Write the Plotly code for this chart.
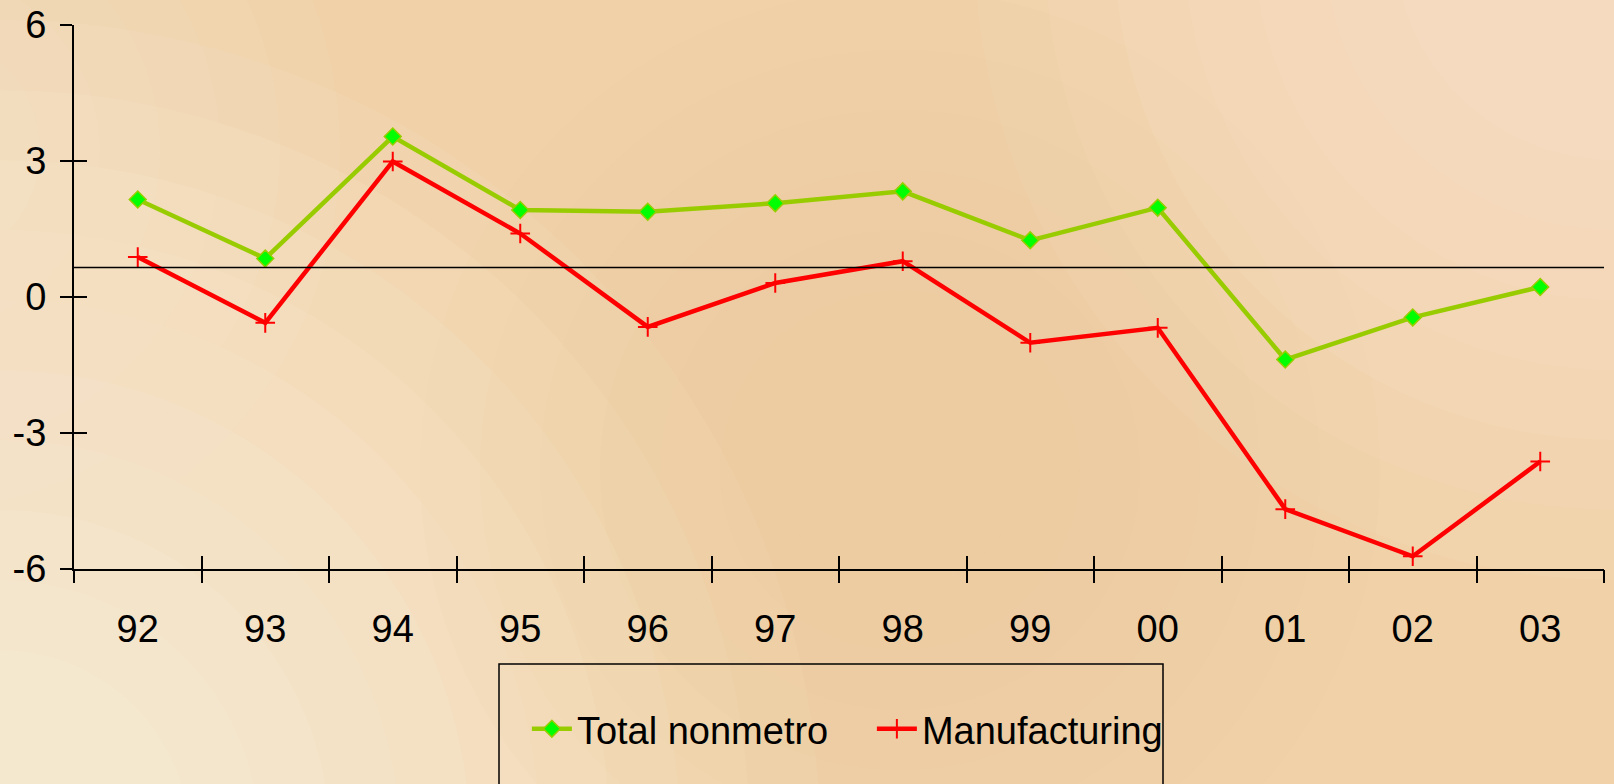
import plotly.graph_objects as go

years = ["92", "93", "94", "95", "96", "97", "98", "99", "00", "01", "02", "03"]
total_nonmetro = [2.15, 0.85, 3.54, 1.92, 1.88, 2.07, 2.33, 1.25, 1.97, -1.38, -0.45, 0.22]
manufacturing = [0.88, -0.57, 2.99, 1.40, -0.66, 0.31, 0.79, -1.01, -0.68, -4.68, -5.72, -3.63]
reference_level = 0.65
y_ticks = [-6, -3, 0, 3, 6]
y_tick_text = ["-6", "-3", "0", "3", "6"]

xpos = list(range(len(years)))
bounds = [i - 0.5 for i in range(len(years) + 1)]
FONT = "Liberation Sans, Arial, sans-serif"

W, H = 1614, 784
L, R, T, B = 74, 10, 25, 215
PW, PH = W - L - R, H - T - B


def px_x(px):
    return (px - L) / PW


def px_y(py):
    return (H - B - py) / PH


def soft_circle(cx, cy, r, color, op):
    return dict(type="circle", xref="paper", yref="paper",
                x0=px_x(cx - r), x1=px_x(cx + r), y0=px_y(cy + r), y1=px_y(cy - r),
                fillcolor=color, opacity=op, line=dict(width=0), layer="below")


fig = go.Figure()
fig.add_trace(go.Scatter(
    x=xpos, y=total_nonmetro, mode="lines+markers", name="Total nonmetro",
    line=dict(color="#99CC00", width=4.5),
    marker=dict(symbol="diamond", size=13, color="#00FF00",
                line=dict(color="#99CC00", width=1.5)),
))
fig.add_trace(go.Scatter(
    x=xpos, y=manufacturing, mode="lines+markers", name="Manufacturing",
    line=dict(color="#FF0000", width=4.5),
    marker=dict(symbol="cross-thin", size=14, color="#FF0000",
                line=dict(color="#FF0000", width=2)),
))
# invisible helpers so overlay axes render
fig.add_trace(go.Scatter(x=[None], y=[None], xaxis="x2", yaxis="y2", showlegend=False, hoverinfo="skip"))
fig.add_trace(go.Scatter(x=[None], y=[None], xaxis="x3", yaxis="y", showlegend=False, hoverinfo="skip"))

shapes = []
# soft background glow approximations
for r in range(820, 120, -70):
    shapes.append(soft_circle(0, 840, r, "#FFFBF3", 0.08))
for r in range(640, 150, -70):
    shapes.append(soft_circle(1614, -60, r, "#FAEEDC", 0.09))
for r in range(420, 100, -60):
    shapes.append(soft_circle(-80, 150, r, "#F9E9D4", 0.09))
for r in range(480, 100, -60):
    shapes.append(soft_circle(900, 470, r, "#EAC794", 0.06))

shapes += [
    dict(type="line", xref="x domain", yref="y", x0=0, x1=1, y0=reference_level, y1=reference_level,
         line=dict(color="black", width=1.5)),
    dict(type="rect", xref="paper", yref="paper", x0=px_x(499), x1=px_x(1163),
         y0=px_y(820), y1=px_y(664), line=dict(color="black", width=1.5),
         fillcolor="rgba(0,0,0,0)"),
]

fig.update_layout(
    width=W, height=H,
    margin=dict(l=L, r=R, t=T, b=B),
    paper_bgcolor="#F0D1A8",
    plot_bgcolor="rgba(0,0,0,0)",
    font=dict(family=FONT, size=38, color="black"),
    showlegend=True,
    legend=dict(orientation="h", x=0.296, xanchor="left", y=px_y(729), yanchor="middle",
                font=dict(family=FONT, size=38, color="black"),
                bgcolor="rgba(0,0,0,0)", borderwidth=0,
                entrywidth=290, entrywidthmode="pixels", itemwidth=40),
    xaxis=dict(range=[-0.5, len(years) - 0.5], tickvals=xpos, ticktext=years,
               ticks="", showgrid=False, zeroline=False, showline=False, automargin=False,
               ticklabelstandoff=34, tickfont=dict(size=38)),
    xaxis2=dict(overlaying="x", anchor="y", side="bottom", range=[-0.5, len(years) - 0.5],
                tickvals=bounds, ticks="inside", ticklen=13, tickwidth=1.5, tickcolor="black",
                showticklabels=False, showgrid=False, zeroline=False, showline=True,
                automargin=False, linecolor="black", linewidth=2),
    xaxis3=dict(overlaying="x", anchor="y", side="bottom", range=[-0.5, len(years) - 0.5],
                tickvals=bounds, ticks="outside", ticklen=13, tickwidth=1.5, tickcolor="black",
                showticklabels=False, showgrid=False, zeroline=False, showline=False,
                automargin=False),
    yaxis=dict(range=[-6, 6], tickvals=y_ticks, ticktext=y_tick_text, ticks="outside",
               ticklen=12, tickwidth=1.5, tickcolor="black", showgrid=False, zeroline=False,
               showline=True, linecolor="black", linewidth=2, automargin=False,
               ticklabelstandoff=6, tickfont=dict(size=38)),
    yaxis2=dict(overlaying="y", anchor="x", side="left", range=[-6, 6], tickvals=y_ticks,
                ticks="inside", ticklen=13, tickwidth=1.5, tickcolor="black",
                showticklabels=False, showgrid=False, zeroline=False, showline=False,
                automargin=False),
    shapes=shapes,
)

fig.write_html("out.html", config={"displayModeBar": False},
               post_script="document.body.style.margin='0';document.body.style.overflow='hidden';")
